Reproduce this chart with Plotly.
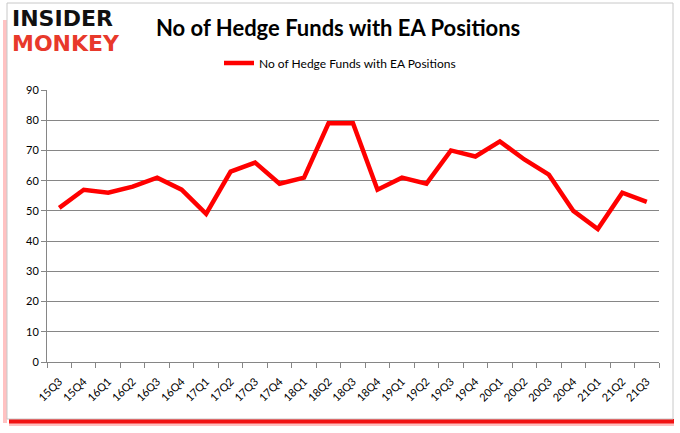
import plotly.graph_objects as go

quarters = ["15Q3", "15Q4", "16Q1", "16Q2", "16Q3", "16Q4", "17Q1", "17Q2", "17Q3", "17Q4",
            "18Q1", "18Q2", "18Q3", "18Q4", "19Q1", "19Q2", "19Q3", "19Q4", "20Q1", "20Q2",
            "20Q3", "20Q4", "21Q1", "21Q2", "21Q3"]
hedge_funds = [51, 57, 56, 58, 61, 57, 49, 63, 66, 59,
               61, 79, 79, 57, 61, 59, 70, 68, 73, 67,
               62, 50, 44, 56, 53]
y_ticks = [0, 10, 20, 30, 40, 50, 60, 70, 80, 90]

W, H = 680, 433
L, R, T, B = 47, 21, 90, 71
pw, ph = W - L - R, H - T - B

def px(x):
    return (x - L) / pw

def py(y):
    return (H - B - y) / ph

fig = go.Figure()
fig.add_trace(go.Scatter(
    x=quarters, y=hedge_funds, mode="lines",
    name="No of Hedge Funds with EA Positions",
    line=dict(color="#FF0000", width=4.5),
))

font_family = "Lato, 'Open Sans', 'DejaVu Sans', sans-serif"
logo_font = "'DejaVu Sans', sans-serif"

shapes = [
    # red shadow bottom
    dict(type="rect", xref="paper", yref="paper", x0=px(9), x1=px(674), y0=py(426), y1=py(419),
         fillcolor="rgba(255,0,0,0.25)", line=dict(width=0), layer="below"),
    dict(type="rect", xref="paper", yref="paper", x0=px(9), x1=px(674), y0=py(423.5), y1=py(419),
         fillcolor="rgba(240,0,0,0.9)", line=dict(width=0), layer="below"),
    # red shadow left
    dict(type="rect", xref="paper", yref="paper", x0=px(3), x1=px(7), y0=py(423), y1=py(20),
         fillcolor="rgba(255,120,120,0.45)", line=dict(width=0), layer="below"),
    # frame
    dict(type="rect", xref="paper", yref="paper", x0=px(7), x1=px(673), y0=py(419), y1=py(3),
         fillcolor="rgba(0,0,0,0)", line=dict(color="#c8c8c8", width=1), layer="below"),
]

annotations = [
    dict(text="<b>INSIDER</b>", xref="paper", yref="paper", x=px(10), y=py(18.5),
         xanchor="left", yanchor="middle", showarrow=False,
         font=dict(family=logo_font, size=22, color="#111111")),
    dict(text="<b>MONKEY</b>", xref="paper", yref="paper", x=px(10), y=py(44),
         xanchor="left", yanchor="middle", showarrow=False,
         font=dict(family=logo_font, size=22, color="#E8392B")),
    dict(text="<b>No of Hedge Funds with EA Positions</b>", xref="paper", yref="paper",
         x=px(338), y=py(28), xanchor="center", yanchor="middle", showarrow=False,
         font=dict(family=font_family, size=22, color="#000000")),
]

fig.update_layout(
    width=W, height=H,
    margin=dict(l=L, r=R, t=T, b=B, autoexpand=False),
    paper_bgcolor="white", plot_bgcolor="white",
    showlegend=True,
    legend=dict(orientation="h", x=px(340), y=py(63), xanchor="center", yanchor="middle",
                font=dict(family=font_family, size=12, color="#000000"),
                bgcolor="rgba(0,0,0,0)", itemwidth=30),
    shapes=shapes,
    annotations=annotations,
    xaxis=dict(
        type="category", range=[-0.5, len(quarters) - 0.5],
        tickangle=-45, tickson="boundaries",
        ticks="outside", ticklen=5, tickcolor="#868686",
        ticklabelstandoff=8,
        showline=True, linecolor="#868686", linewidth=1,
        showgrid=False,
        tickfont=dict(family=font_family, size=11, color="#000000"),
    ),
    yaxis=dict(
        range=[0, 90], tickvals=y_ticks,
        ticks="outside", ticklen=5, tickcolor="#868686",
        showline=True, linecolor="#868686", linewidth=1,
        showgrid=True, gridcolor="#868686", gridwidth=1,
        zeroline=False,
        tickfont=dict(family=font_family, size=11, color="#000000"),
    ),
)

fig.write_html("out.html", config={"displayModeBar": False},
               post_script="document.body.style.margin='0';")
